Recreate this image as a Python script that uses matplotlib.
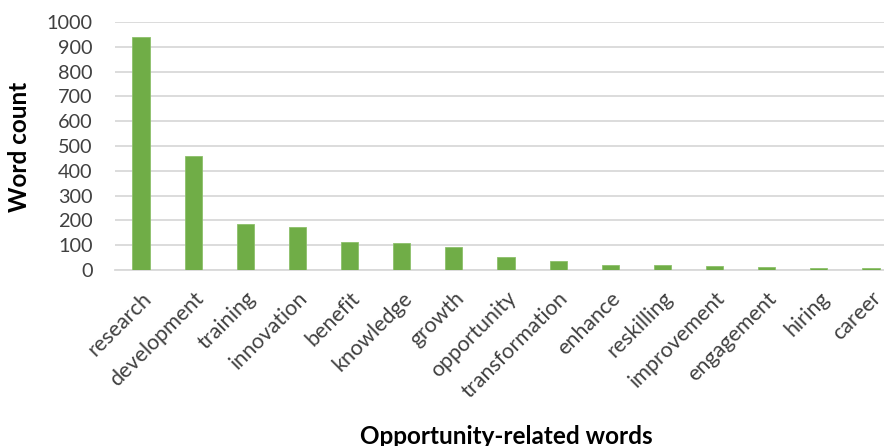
import matplotlib
matplotlib.use("Agg")
import matplotlib.pyplot as plt
from matplotlib.transforms import ScaledTranslation

words = ["research", "development", "training", "innovation", "benefit",
         "knowledge", "growth", "opportunity", "transformation", "enhance",
         "reskilling", "improvement", "engagement", "hiring", "career"]
counts = [938, 461, 185, 172, 112, 108, 93, 53, 35, 19, 19, 15, 11, 7, 7]
y_ticks = [0, 100, 200, 300, 400, 500, 600, 700, 800, 900, 1000]

plt.rcParams["font.family"] = ["Lato", "DejaVu Sans"]

fig = plt.figure(figsize=(8.84, 4.46), dpi=100)
ax = fig.add_axes([115 / 884, 176 / 446, 782 / 884, 248 / 446])

x = range(len(words))
ax.bar(x, counts, width=0.33, color="#70AD47", edgecolor="#8CC06A",
       linewidth=0.6, zorder=3)

ax.set_xlim(-0.5, len(words) - 0.5)
ax.set_ylim(0, 1000)
ax.set_yticks(y_ticks)
ax.set_yticklabels([str(v) for v in y_ticks], fontsize=14.3, color="#404040")
ax.set_xticks(list(x))
ax.set_xticklabels(words, rotation=45, ha="right", rotation_mode="anchor",
                   fontsize=15.5, color="#404040")

# nudge the slanted category labels a little to the left
shift = ScaledTranslation(-4 / 100, 0, fig.dpi_scale_trans)
for lbl in ax.get_xticklabels():
    lbl.set_transform(lbl.get_transform() + shift)

ax.yaxis.grid(True, color="#D9D9D9", linewidth=1.3, zorder=0)
ax.set_axisbelow(True)
for side in ("top", "right", "left"):
    ax.spines[side].set_visible(False)
ax.spines["bottom"].set_color("#D9D9D9")
ax.spines["bottom"].set_linewidth(1.3)
ax.tick_params(axis="both", length=0)
ax.tick_params(axis="y", pad=16)
ax.tick_params(axis="x", pad=13)

fig.text(20 / 884, 1 - 147 / 446, "Word count", rotation=90, ha="center",
         va="center", fontsize=17.5, fontweight="bold", color="#000000")
fig.text(506 / 884, 1 - 436 / 446, "Opportunity-related words", ha="center",
         va="center", fontsize=17.5, fontweight="bold", color="#000000")

fig.savefig("out.png", dpi=100)
